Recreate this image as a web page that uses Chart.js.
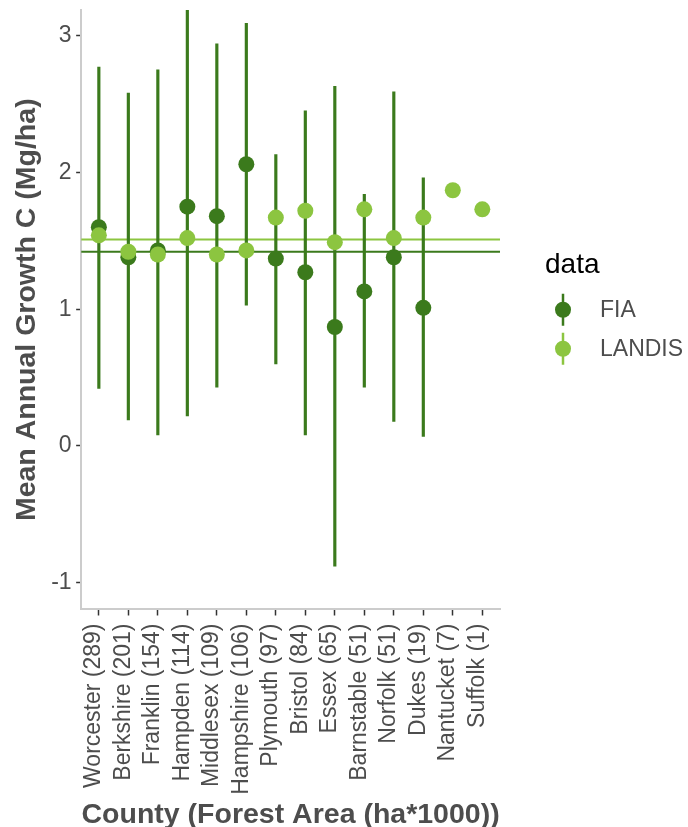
<!DOCTYPE html>
<html>
<head>
<meta charset="utf-8">
<script src="https://cdn.jsdelivr.net/npm/chart.js@4.4.1/dist/chart.umd.min.js"></script>
<style>
  html, body { margin: 0; padding: 0; background: #ffffff; }
  #wrap { position: relative; width: 688px; height: 827px; }
</style>
</head>
<body>
<div id="wrap"><canvas id="chart"></canvas></div>
<script>
// Counties with forest area (ha*1000)
const counties = [
  'Worcester (289)', 'Berkshire (201)', 'Franklin (154)', 'Hampden (114)',
  'Middlesex (109)', 'Hampshire (106)', 'Plymouth (97)', 'Bristol (84)',
  'Essex (65)', 'Barnstable (51)', 'Norfolk (51)', 'Dukes (19)',
  'Nantucket (7)', 'Suffolk (1)'
];

// FIA plot estimates: mean and interval bounds (Mg/ha)
const fiaMean = [1.60, 1.38, 1.43, 1.75, 1.68, 2.06, 1.37, 1.27, 0.87, 1.13, 1.38, 1.01, null, null];
const fiaLow  = [0.42, 0.19, 0.08, 0.22, 0.43, 1.03, 0.60, 0.08, -0.88, 0.43, 0.18, 0.07, null, null];
const fiaHigh = [2.77, 2.58, 2.75, 3.27, 2.94, 3.09, 2.13, 2.45, 2.63, 1.84, 2.59, 1.96, null, null];

// LANDIS simulated means (Mg/ha)
const landisMean = [1.54, 1.42, 1.40, 1.52, 1.40, 1.43, 1.67, 1.72, 1.49, 1.73, 1.52, 1.67, 1.87, 1.73];

// State-wide reference levels
const fiaOverall = 1.42;
const landisOverall = 1.51;

// Axis settings
const yTicks = [-1, 0, 1, 2, 3];
const yMin = -1.196;
const yMax = 3.188;
const xMin = -0.6;
const xMax = counties.length - 0.4;

const seriesNames = ['FIA', 'LANDIS'];
const fiaColor = '#3b7a1c';
const landisColor = '#8cc540';
const textColor = '#4d4d4d';
const fontFamily = '"Liberation Sans", Arial, sans-serif';

const pts = (arr) => arr.map((v, i) => (v === null ? null : { x: i, y: v })).filter(Boolean);
const bars = counties
  .map((c, i) => (fiaLow[i] === null ? null : { x: i, y: [fiaLow[i], fiaHigh[i]] }))
  .filter(Boolean);

// Legend drawn to the right of the panel: title plus dot-and-bar keys
const keyPlugin = {
  id: 'seriesKey',
  afterDraw(chart) {
    const { ctx, chartArea } = chart;
    const x0 = chartArea.right + 45;
    const mid = (chartArea.top + chartArea.bottom) / 2;
    const colors = [fiaColor, landisColor];
    ctx.save();
    ctx.fillStyle = '#000000';
    ctx.font = '28px ' + fontFamily;
    ctx.textBaseline = 'alphabetic';
    ctx.textAlign = 'left';
    ctx.fillText('data', x0, mid - 37);
    seriesNames.forEach((name, i) => {
      const cy = mid + i * 39;
      const cx = x0 + 18;
      ctx.strokeStyle = colors[i];
      ctx.lineWidth = 2.5;
      ctx.beginPath();
      ctx.moveTo(cx, cy - 16);
      ctx.lineTo(cx, cy + 16);
      ctx.stroke();
      ctx.fillStyle = colors[i];
      ctx.beginPath();
      ctx.arc(cx, cy, 8, 0, Math.PI * 2);
      ctx.fill();
      ctx.fillStyle = textColor;
      ctx.font = '23px ' + fontFamily;
      ctx.textBaseline = 'middle';
      ctx.fillText(name, x0 + 55, cy + 1);
    });
    ctx.restore();
  }
};

const noEdgePadding = (scale) => {
  scale.paddingTop = 0;
  scale.paddingBottom = 0;
  scale.paddingLeft = 0;
  scale.paddingRight = 0;
};

new Chart(document.getElementById('chart'), {
  data: {
    datasets: [
      {
        type: 'line',
        label: 'FIA overall',
        data: [{ x: xMin, y: fiaOverall }, { x: xMax, y: fiaOverall }],
        borderColor: fiaColor,
        borderWidth: 2,
        pointRadius: 0,
        order: 5
      },
      {
        type: 'line',
        label: 'LANDIS overall',
        data: [{ x: xMin, y: landisOverall }, { x: xMax, y: landisOverall }],
        borderColor: landisColor,
        borderWidth: 2,
        pointRadius: 0,
        order: 4
      },
      {
        type: 'bar',
        label: 'FIA interval',
        data: bars,
        backgroundColor: fiaColor,
        borderWidth: 0,
        barThickness: 2.5,
        order: 3
      },
      {
        type: 'scatter',
        label: 'FIA',
        data: pts(fiaMean),
        backgroundColor: fiaColor,
        borderWidth: 0,
        pointRadius: 8,
        pointHoverRadius: 8,
        order: 2
      },
      {
        type: 'scatter',
        label: 'LANDIS',
        data: pts(landisMean),
        backgroundColor: landisColor,
        borderWidth: 0,
        pointRadius: 8,
        pointHoverRadius: 8,
        order: 1
      }
    ]
  },
  options: {
    responsive: true,
    maintainAspectRatio: false,
    animation: false,
    events: [],
    layout: { padding: { left: 6.5, right: 188, top: 10, bottom: 0 } },
    plugins: {
      legend: { display: false },
      tooltip: { enabled: false }
    },
    scales: {
      x: {
        type: 'linear',
        offset: false,
        min: xMin,
        max: xMax,
        afterBuildTicks: (scale) => { scale.ticks = counties.map((c, i) => ({ value: i })); },
        afterFit: noEdgePadding,
        ticks: {
          callback: (v) => counties[v],
          autoSkip: false,
          minRotation: 90,
          maxRotation: 90,
          padding: 8,
          labelOffset: -5,
          color: textColor,
          font: { family: fontFamily, size: 23 }
        },
        grid: {
          offset: false,
          drawOnChartArea: false,
          drawTicks: true,
          tickLength: 6,
          tickColor: '#333333',
          tickWidth: 1.5
        },
        border: { display: true, color: '#cccccc', width: 2 },
        title: {
          display: true,
          text: 'County (Forest Area (ha*1000))',
          color: textColor,
          font: { family: fontFamily, size: 28.5, weight: 'bold', lineHeight: 0.85 },
          padding: { top: 0, bottom: 0 }
        }
      },
      y: {
        type: 'linear',
        min: yMin,
        max: yMax,
        afterBuildTicks: (scale) => { scale.ticks = yTicks.map((v) => ({ value: v })); },
        afterFit: noEdgePadding,
        ticks: {
          padding: 4.5,
          color: textColor,
          font: { family: fontFamily, size: 23 }
        },
        grid: {
          drawOnChartArea: false,
          drawTicks: true,
          tickLength: 5,
          tickColor: '#333333',
          tickWidth: 1.5
        },
        border: { display: true, color: '#cccccc', width: 2 },
        title: {
          display: true,
          text: 'Mean Annual Growth C (Mg/ha)',
          color: textColor,
          font: { family: fontFamily, size: 28.5, weight: 'bold', lineHeight: 1.2 },
          padding: { top: 4, bottom: 2 }
        }
      }
    }
  },
  plugins: [keyPlugin]
});
</script>
</body>
</html>
